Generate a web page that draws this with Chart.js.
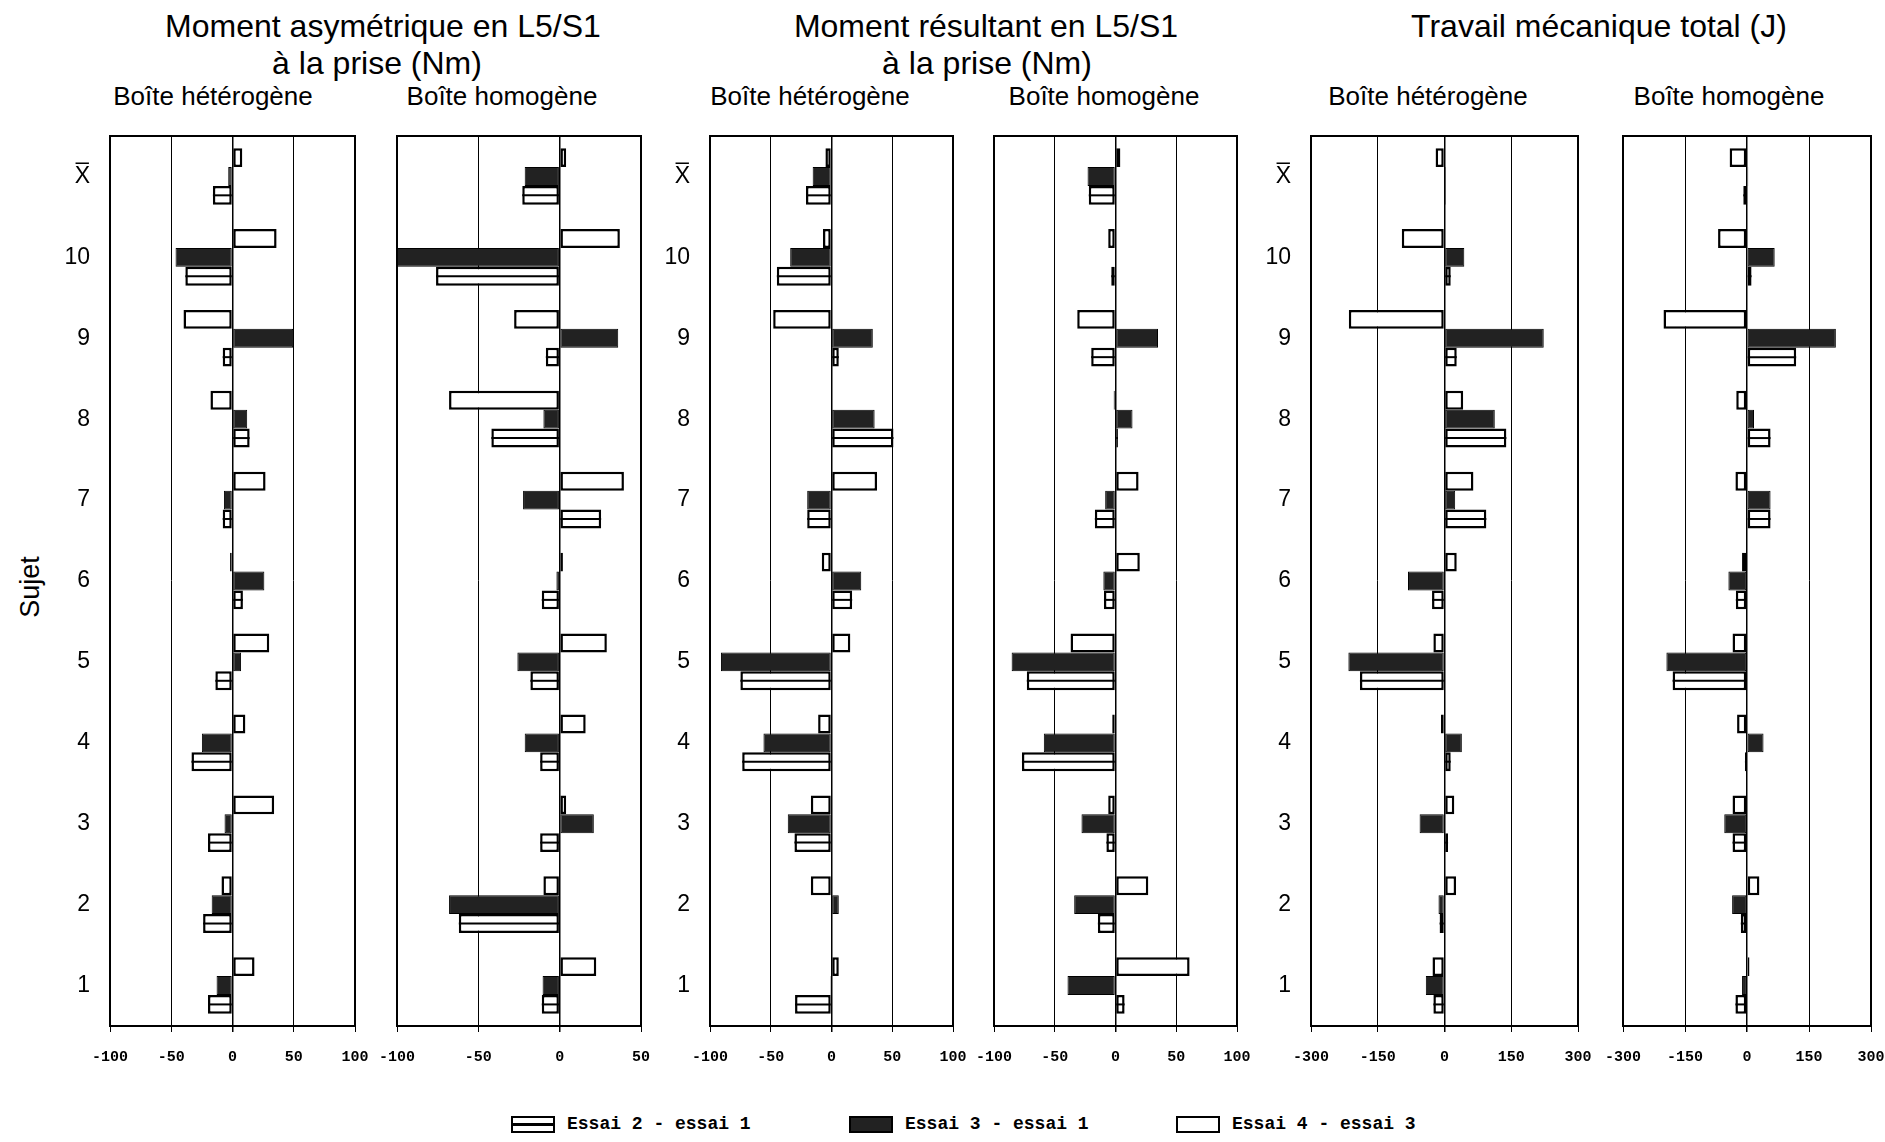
<!DOCTYPE html>
<html><head><meta charset="utf-8">
<script src="https://cdn.jsdelivr.net/npm/chart.js@4"></script>
<style>
body{margin:0;background:#fff;width:1885px;height:1142px;position:relative;overflow:hidden;font-family:"Liberation Sans",Arial,sans-serif;color:#000}
.t{position:absolute;white-space:nowrap;transform:translate(-50%,-50%);line-height:1}
.ti{font-size:32px}
.st{font-size:26px}
canvas{position:absolute;}
.leg{position:absolute;top:1124px;transform:translateY(-50%);display:flex;align-items:center;font:bold 18px "Liberation Mono",monospace;white-space:nowrap}
.sym{box-sizing:border-box;width:44px;height:17px;border:2px solid #000;margin-right:12px;background:#fff}
.sym.d{background:#222}
.sym.m{background:linear-gradient(#fff 0 40%,#000 40% 60%,#fff 60%)}
</style></head><body>
<div class="t ti" style="left:383px;top:26px">Moment asymétrique en L5/S1</div>
<div class="t ti" style="left:377px;top:63px">à la prise (Nm)</div>
<div class="t ti" style="left:986px;top:26px">Moment résultant en L5/S1</div>
<div class="t ti" style="left:987px;top:63px">à la prise (Nm)</div>
<div class="t ti" style="left:1599px;top:26px">Travail mécanique total (J)</div>
<div class="t st" style="left:213px;top:96px">Boîte hétérogène</div>
<div class="t st" style="left:502px;top:96px">Boîte homogène</div>
<div class="t st" style="left:810px;top:96px">Boîte hétérogène</div>
<div class="t st" style="left:1104px;top:96px">Boîte homogène</div>
<div class="t st" style="left:1428px;top:96px">Boîte hétérogène</div>
<div class="t st" style="left:1729px;top:96px">Boîte homogène</div>
<div class="t" style="left:30px;top:587px;font-size:27px;transform:translate(-50%,-50%) rotate(-90deg)">Sujet</div>

<div class="leg" style="left:511px"><div class="sym m"></div>Essai 2 - essai 1</div>
<div class="leg" style="left:849px"><div class="sym d"></div>Essai 3 - essai 1</div>
<div class="leg" style="left:1176px"><div class="sym"></div>Essai 4 - essai 3</div>

<script>
// Categories, top to bottom
const categories = ['X\u0305','10','9','8','7','6','5','4','3','2','1'];
const seriesNames = ['Essai 4 - essai 3','Essai 3 - essai 1','Essai 2 - essai 1'];

// Moment asymétrique (Nm) - boîte hétérogène
const asymHet_e43 = [8, 36, -40, -18, 27, -2, 30, 10.5, 34, -9, 18];
const asymHet_e31 = [-3.5, -46.5, 49.5, 12, -7, 26, 7, -25, -6.5, -17, -13];
const asymHet_e21 = [-16, -38.5, -8, 14, -8, 8.5, -14, -33.5, -20, -24, -20];
// Moment asymétrique (Nm) - boîte homogène
const asymHom_e43 = [4, 37, -28, -68, 39.5, 2, 29, 16, 4, -10, 22.5];
const asymHom_e31 = [-21.5, -100, 36, -10, -22.5, -2, -26, -21.5, 21, -68, -10.5];
const asymHom_e21 = [-23, -76, -8.5, -42, 25.5, -11, -18, -12, -12, -62, -11];
// Moment résultant (Nm) - boîte hétérogène
const resHet_e43 = [-5, -7, -48, 0, 37.5, -8, 15.5, -11, -17, -17, 6];
const resHet_e31 = [-15.5, -34, 34, 35.5, -20, 24.5, -91, -56, -36, 6, -1];
const resHet_e21 = [-21, -45, 6, 51, -20, 17, -75, -73.5, -30.5, 0, -30];
// Moment résultant (Nm) - boîte homogène
const resHom_e43 = [4, -6, -31.5, -1.5, 19, 20, -37, -2.7, -6, 27, 61];
const resHom_e31 = [-23, 0, 35, 14, -8.5, -10, -85.5, -59, -28, -34, -39.5];
const resHom_e21 = [-22, -3.5, -20, 2, -17, -9.5, -73, -77, -7.5, -14.5, 7.5];
// Travail mécanique total (J) - boîte hétérogène
const travHet_e43 = [-20, -96, -215, 42, 65, 27.5, -25, -8, 22, 26, -27];
const travHet_e31 = [3, 44.5, 223, 113, 24, -82, -216, 39, -56, -13.5, -42];
const travHet_e21 = [3, 14, 27.5, 139, 94, -28, -190, 14, 8, -11, -25];
// Travail mécanique total (J) - boîte homogène
const travHom_e43 = [-42, -70, -202, -26, -28, -12, -35, -24, -35, 30, 6];
const travHom_e31 = [3, 67, 215, 17, 57, -45, -195, 40, -55, -36, -12];
const travHom_e21 = [-9, 11, 119, 57, 57, -27, -180, -5, -35, -15, -28];

const panels = [
  {L:110,  R:355,  min:-100, max:100, step:50,  labels:true,  d:[asymHet_e43, asymHet_e31, asymHet_e21]},
  {L:397,  R:641,  min:-100, max:50,  step:50,  labels:false, d:[asymHom_e43, asymHom_e31, asymHom_e21]},
  {L:710,  R:953,  min:-100, max:100, step:50,  labels:true,  d:[resHet_e43, resHet_e31, resHet_e21]},
  {L:994,  R:1237, min:-100, max:100, step:50,  labels:false, d:[resHom_e43, resHom_e31, resHom_e21]},
  {L:1311, R:1578, min:-300, max:300, step:150, labels:true,  d:[travHet_e43, travHet_e31, travHet_e21]},
  {L:1623, R:1871, min:-300, max:300, step:150, labels:false, d:[travHom_e43, travHom_e31, travHom_e21]}
];

const frame = {id:'frame', afterDatasetsDraw(chart){
  const {ctx, chartArea:a} = chart;
  ctx.save(); ctx.strokeStyle='#000'; ctx.lineWidth=2;
  ctx.strokeRect(a.left, a.top, a.right-a.left, a.bottom-a.top);
  ctx.restore();
}};
const midline = {id:'midline', afterDatasetsDraw(chart){
  const ctx = chart.ctx;
  chart.data.datasets.forEach((ds,i)=>{
    if(!ds.midLine) return;
    chart.getDatasetMeta(i).data.forEach(el=>{
      const p = el.getProps(['x','y','base'], true);
      if (Math.abs(p.x - p.base) < 1) return;
      ctx.save(); ctx.strokeStyle='#000'; ctx.lineWidth=2;
      ctx.beginPath(); ctx.moveTo(p.base, p.y); ctx.lineTo(p.x, p.y); ctx.stroke();
      ctx.restore();
    });
  });
}};

const M = 30, TOP = 130, H = 950;
panels.forEach(p=>{
  const YW = p.labels ? 70 : 0;
  const c = document.createElement('canvas');
  const w = YW + (p.R - p.L) + 2*M;
  c.width = w; c.height = H;
  c.style.left = (p.L - M - YW) + 'px'; c.style.top = TOP + 'px';
  c.style.width = w + 'px'; c.style.height = H + 'px';
  document.body.appendChild(c);
  const common = {borderColor:'#000', borderSkipped:false, categoryPercentage:0.7, barPercentage:1.0};
  new Chart(c, {
    type:'bar',
    data:{labels:categories, datasets:[
      Object.assign({label:seriesNames[0], data:p.d[0], backgroundColor:'#fff', borderWidth:2.5}, common),
      Object.assign({label:seriesNames[1], data:p.d[1], backgroundColor:'#222', borderWidth:1}, common),
      Object.assign({label:seriesNames[2], data:p.d[2], backgroundColor:'#fff', borderWidth:2.5, midLine:true}, common)
    ]},
    options:{
      indexAxis:'y', responsive:false, animation:false, devicePixelRatio:1,
      layout:{padding:{left:M, right:M, top:6, bottom:0}},
      plugins:{legend:{display:false}, tooltip:{enabled:false}},
      scales:{
        x:{type:'linear', min:p.min, max:p.max,
           ticks:{stepSize:p.step, autoSkip:false, maxRotation:0, color:'#000', padding:16,
                  font:{family:'"Liberation Mono", monospace', weight:'bold', size:15}},
           grid:{color:'#000', lineWidth:(ctx)=> (ctx.tick && ctx.tick.value===0) ? 1.5 : 1, tickLength:6},
           border:{display:true, color:'#000', width:2},
           afterFit(s){ s.height = 54; s.paddingLeft = 0; s.paddingRight = 0; }},
        y:{type:'category',
           ticks:{display:p.labels, color:'#000', padding:20, font:{family:'"Liberation Sans", "DejaVu Sans", sans-serif', size:23}},
           grid:{display:false, drawTicks:false}, border:{display:false},
           afterFit(s){ s.width = YW; s.paddingTop = 0; s.paddingBottom = 0; }}
      }
    },
    plugins:[frame, midline]
  });
});
</script>
</body></html>
